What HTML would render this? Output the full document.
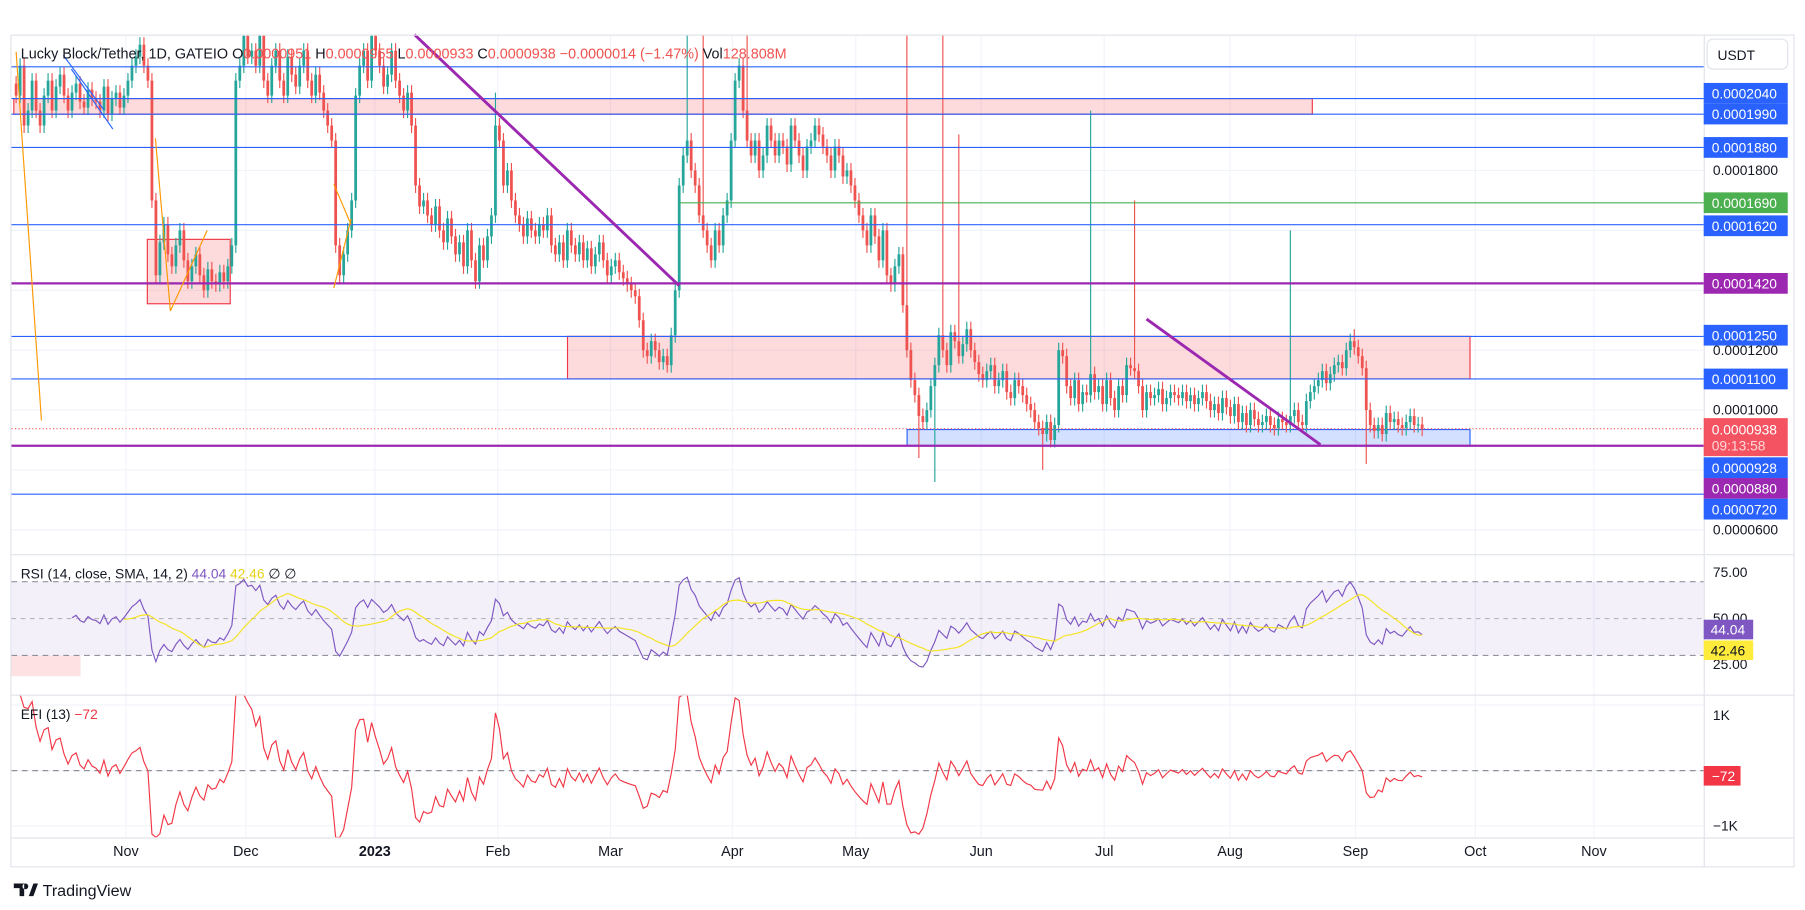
<!DOCTYPE html>
<html><head><meta charset="utf-8"><style>
html,body{margin:0;padding:0;background:#fff;overflow:hidden}
svg{display:block;font-family:"Liberation Sans",sans-serif}
</style></head><body>
<svg id="chart" width="1805" height="910" viewBox="0 0 1568 790" preserveAspectRatio="none" xmlns="http://www.w3.org/2000/svg">
<rect x="0" y="0" width="1568" height="790" fill="#fff"/>
<text x="12" y="20" font-size="13" fill="#131722">michaelfaniyi42 published on TradingView.com, Sep 19, 2023 09:46 UTC-5</text>
<g id="grid"></g>
<g id="boxes"></g>
<g id="candles"></g>
<g id="levels"></g>
<g id="drawings"></g>
<g id="rsi"></g>
<g id="efi"></g>
<g id="frame"></g>
<g id="labels"></g>
</svg>
<script>
// ---- data (price in 1e-7 USDT units) ----
const closes = [
2050,2150,1950,2000,2100,2000,1950,2050,2100,2000,
2080,2120,2050,2000,2060,2090,2030,2010,2070,2040,
2030,2000,2080,1990,2040,2060,2010,2050,2100,2150,
2180,2220,2150,2100,1700,1450,1560,1620,1520,1480,
1550,1600,1500,1430,1480,1520,1450,1400,1470,1430,
1420,1460,1430,1480,1550,2100,2150,2250,2180,2200,
2150,2250,2100,2050,2150,2200,2100,2050,2180,2120,
2080,2150,2200,2100,2050,2120,2060,2000,1950,1900,
1550,1450,1520,1600,1700,2050,2150,2200,2100,2250,
2200,2150,2080,2120,2200,2100,2050,2000,2060,1950,
1750,1680,1700,1650,1620,1680,1600,1560,1640,1580,
1520,1560,1480,1600,1500,1430,1550,1500,1580,1650,
1950,1900,1750,1800,1700,1650,1620,1580,1640,1600,
1580,1620,1600,1650,1550,1520,1560,1500,1600,1550,
1520,1560,1500,1540,1480,1520,1560,1500,1450,1480,
1500,1460,1440,1420,1400,1380,1300,1200,1180,1230,
1200,1160,1180,1150,1250,1400,1750,1850,1900,1800,
1750,1650,1600,1550,1500,1600,1550,1650,1700,1900,
2100,2150,2000,1900,1850,1900,1800,1850,1950,1900,
1850,1900,1880,1820,1950,1900,1850,1800,1880,1900,
1950,1920,1880,1850,1800,1880,1850,1780,1800,1750,
1700,1650,1600,1550,1650,1580,1500,1600,1450,1420,
1480,1520,1350,1200,1100,1050,980,960,1000,1080,
1150,1250,1200,1150,1260,1230,1180,1220,1270,1200,
1160,1120,1100,1130,1150,1080,1100,1130,1060,1040,
1100,1080,1050,1020,1000,960,940,920,960,900,
950,1200,1180,1080,1040,1100,1020,1060,1050,1120,
1060,1080,1020,1100,1040,1000,1080,1050,1150,1140,
1130,1080,1000,1060,1040,1050,1070,1020,1040,1060,
1050,1040,1060,1030,1050,1020,1040,1060,1030,1000,
1020,990,1040,1010,980,1020,960,990,950,1000,
970,950,960,980,950,940,970,960,950,980,
1000,960,950,1030,1060,1080,1100,1130,1090,1120,
1150,1160,1140,1200,1230,1210,1180,1140,1000,950,
930,950,920,990,960,970,950,940,960,980,
950,952,938];
const spikeIdx  = [168,172,223,232,236,269,280,319,335,183,120];
const spikeHigh = [2300,2300,2300,2300,1920,2000,1700,1600,1270,2300,2060];
const dipIdx = [230,338,257,226];
const dipLow = [760,820,800,840];
const levelPrices = [2146,2040,1988,1877,1619,1423,1246,1104,881,719];
const levelColors = ['#2962ff','#2962ff','#2962ff','#2962ff','#2962ff','#9c27b0','#2962ff','#2962ff','#9c27b0','#2962ff'];
const priceTicks = [1800,1600,1400,1200,1000,800,600];
const monthLabels = ['Nov','Dec','2023','Feb','Mar','Apr','May','Jun','Jul','Aug','Sep','Oct','Nov'];
const monthIdx = [27.5,57.5,89.8,120.6,148.8,179.3,210.2,241.6,272.4,303.9,335.3,365.3,395];
const rsiTicks = [75,50,25];

// ---- scales ----
const X0=14, DX=3.47;
const xs = i => X0 + i*DX;
const ys = p => 148 + (1800-p)*0.26;
const yr = v => 537 - (v-50)*1.6;
const ye = v => 669 - v*0.048;
const NS='http://www.w3.org/2000/svg';
function mk(tag, attrs, parent){const e=document.createElementNS(NS,tag);for(const k in attrs)e.setAttribute(k,attrs[k]);if(parent)parent.appendChild(e);return e;}
const G=id=>document.getElementById(id);

// grid
const grid=G('grid');
priceTicks.forEach(p=>{const l=mk('line',{x1:10,x2:1480,y1:ys(p),y2:ys(p),stroke:'#f0f3fa','stroke-width':1},grid);

});
monthIdx.forEach(m=>{const l=mk('line',{x1:xs(m),x2:xs(m),y1:30,y2:727,stroke:'#f0f3fa','stroke-width':1},grid);

});
[612,669,717].forEach(y=>{const l=mk('line',{x1:10,x2:1480,y1:y,y2:y,stroke:'#f0f3fa'},grid);

});

// boxes (zones)
const boxes=G('boxes');
function box(x1,x2,p1,p2,fill,stroke,name){const r=mk('rect',{x:x1,y:ys(p1),width:x2-x1,height:ys(p2)-ys(p1),fill:fill,stroke:stroke,'stroke-width':1},boxes);

}
box(12,1140,2040,1988,'rgba(242,54,69,0.18)','#f23645','supply-zone-top');
box(493,1277,1246,1104,'rgba(242,54,69,0.18)','#f23645','supply-zone-mid');
box(128,200,1570,1355,'rgba(242,54,69,0.18)','#f23645','zone-left');
box(788,1277,935,881,'rgba(41,98,255,0.2)','#2962ff','demand-zone');
mk('polygon',{points:'55,48 90,95 100,112 65,64',fill:'rgba(0,188,212,0.08)'},boxes);

// candles
const cg=G('candles');
for(let i=0;i<closes.length;i++){
  const c=closes[i], o=i>0?closes[i-1]:closes[0]+40;
  const up=c>=o, col=up?'#26a69a':'#ef5350';
  let hi=Math.max(o,c)+25, lo=Math.min(o,c)-25;
  const si=spikeIdx.indexOf(i); if(si>=0) hi=spikeHigh[si];
  const di=dipIdx.indexOf(i); if(di>=0) lo=dipLow[di];
  const x=xs(i);
  const w=mk('line',{x1:x,x2:x,y1:ys(hi),y2:ys(lo),stroke:col,'stroke-width':1},cg);
  
  
  const b=mk('rect',{x:x-1.2,y:ys(Math.max(o,c)),width:2.4,height:Math.max(1,Math.abs(ys(o)-ys(c))),fill:col},cg);
  
  
}
mk('rect',{x:0,y:0,width:1568,height:30,fill:'#fff'},cg);

// levels
const lv=G('levels');
levelPrices.forEach((p,k)=>{const l=mk('line',{x1:10,x2:1480,y1:ys(p),y2:ys(p),stroke:levelColors[k],'stroke-width':levelColors[k]=='#9c27b0'?2:1},lv);

});
const gl=mk('line',{x1:590,x2:1480,y1:ys(1692),y2:ys(1692),stroke:'#4caf50','stroke-width':1},lv);


const cl=mk('line',{x1:10,x2:1480,y1:ys(938),y2:ys(938),stroke:'#ef5350','stroke-width':1,'stroke-dasharray':'1,2'},lv);



// drawings
const dr=G('drawings');
[[360,30,590,248,'#9c27b0',2.5],[996,277,1147,386,'#9c27b0',2.5],[55,48,90,95,'#2962ff',1],[62,60,98,112,'#2962ff',1],
 [14,45,36,365,'#ff9800',1],[135,120,148,270,'#ff9800',1],[148,270,180,200,'#ff9800',1],[290,250,305,190,'#ff9800',1],[290,160,305,195,'#ff9800',1]]
.forEach(d=>{const l=mk('line',{x1:d[0],y1:d[1],x2:d[2],y2:d[3],stroke:d[4],'stroke-width':d[5]},dr);

});

// RSI
const rg=G('rsi');
mk('rect',{x:10,y:yr(70),width:1470,height:yr(30)-yr(70),fill:'rgba(126,87,194,0.09)'},rg);
mk('rect',{x:10,y:yr(30),width:60,height:18,fill:'rgba(242,54,69,0.15)'},rg);
[70,50,30].forEach(v=>{const l=mk('line',{x1:10,x2:1480,y1:yr(v),y2:yr(v),stroke:'#787b86','stroke-width':1,'stroke-dasharray':v==50?'4,4':'5,4',opacity:v==50?0.5:0.8},rg);

});
const rsi=[];let ag=0,al=0;
for(let i=1;i<closes.length;i++){const d=closes[i]-closes[i-1];const g=Math.max(d,0),l=Math.max(-d,0);
  if(i<=14){ag+=g/14;al+=l/14;}else{ag=(ag*13+g)/14;al=(al*13+l)/14;}
  if(i>=14) rsi[i]=al==0?100:100-100/(1+ag/al);}
const sma=[];for(let i=27;i<closes.length;i++){let s=0;for(let k=0;k<14;k++)s+=rsi[i-k];sma[i]=s/14;}
let pr='',ps='';for(let i=14;i<closes.length;i++){pr+=(pr?'L':'M')+xs(i).toFixed(1)+','+yr(rsi[i]).toFixed(1);if(sma[i]!==undefined)ps+=(ps?'L':'M')+xs(i).toFixed(1)+','+yr(sma[i]).toFixed(1);}
const rl=mk('path',{d:pr,fill:'none',stroke:'#7e57c2','stroke-width':1},rg);


const sl=mk('path',{d:ps,fill:'none',stroke:'#f5e31e','stroke-width':1},rg);



// EFI
const eg=G('efi');
const zl=mk('line',{x1:10,x2:1480,y1:ye(0),y2:ye(0),stroke:'#787b86','stroke-dasharray':'5,4',opacity:0.8},eg);


const efiVol=20;let ema=0,pe='';const a=2/14;
for(let i=1;i<closes.length;i++){const raw=(closes[i]-closes[i-1])*efiVol;ema=i==1?raw:ema+(raw-ema)*a;
  let y=Math.max(603,Math.min(727,ye(ema)));pe+=(pe?'L':'M')+xs(i).toFixed(1)+','+y.toFixed(1);}
mk('clipPath',{id:'ec'},eg).appendChild(mk('rect',{x:10,y:603,width:1470,height:124}));
const el=mk('path',{d:pe,fill:'none',stroke:'#f23645','stroke-width':1,'clip-path':'url(#ec)'},eg);



// frame
const fr=G('frame');
mk('rect',{x:1481,y:30,width:77,height:722,fill:'#fff'},fr);
mk('rect',{x:10,y:728,width:1471,height:24,fill:'#fff'},fr);
mk('rect',{x:9.5,y:30.5,width:1549,height:722,fill:'none',stroke:'#e0e3eb'},fr);
[[1480.5,30,1480.5,752],[10,481.5,1558,481.5],[10,603.5,1558,603.5],[10,727.5,1558,727.5]].forEach(s=>mk('line',{x1:s[0],y1:s[1],x2:s[2],y2:s[3],stroke:'#e0e3eb'},fr));

// labels
const lb=G('labels');
function txt(x,y,s,col,size,name,anchor,weight){const t=mk('text',{x:x,y:y,'font-size':size,fill:col,'text-anchor':anchor||'start','font-weight':weight||'normal'},lb);t.textContent=s;

return t;}
// header
const hdr=[['Lucky Block/Tether, 1D, GATEIO','#131722'],['  O','#131722'],['0.0000951','#ef5350'],['  H','#131722'],['0.0000955','#ef5350'],['  L','#131722'],['0.0000933','#ef5350'],['  C','#131722'],['0.0000938  −0.0000014 (−1.47%)','#ef5350'],['  Vol','#131722'],['128.808M','#ef5350']];
const ht=mk('text',{x:18,y:51,'font-size':12.5,'xml:space':'preserve'},lb);


hdr.forEach(h=>{const s=mk('tspan',{fill:h[1]},ht);s.textContent=h[0];});
// price ticks
[[1800,'0.0001800'],[1200,'0.0001200'],[1000,'0.0001000'],[600,'0.0000600']].forEach(t=>txt(1488,ys(t[0])+4,t[1],'#131722',12,'price-tick'));
txt(1488,ys(1600)+4,'0.0001600','#131722',12,'price-tick');
// USDT
const ub=mk('rect',{x:1483,y:34,width:70,height:26,rx:5,fill:'#fff',stroke:'#e0e3eb'},lb);


txt(1492,52,'USDT','#131722',12,'currency-label');
const tags=[['0.0002040',81,'#2962ff'],['0.0001990',99,'#2962ff'],['0.0001880',128,'#2962ff'],['0.0001690',176,'#4caf50'],['0.0001620',196,'#2962ff'],['0.0001420',246,'#9c27b0'],['0.0001250',291,'#2962ff'],['0.0001100',329,'#2962ff'],['0.0000928',406,'#2962ff'],['0.0000880',424,'#9c27b0'],['0.0000720',442,'#2962ff']];
tags.forEach(t=>{const r=mk('rect',{x:1480,y:t[1]-9,width:73,height:18,fill:t[2]},lb);


txt(1487,t[1]+4.5,t[0],'#fff',12,'price-level-text');});
const cr=mk('rect',{x:1480,y:363,width:73,height:33,fill:'#f23645',opacity:0.85},lb);


txt(1487,377,'0.0000938','#fff',12,'last-price-text');
txt(1487,391,'09:13:58','#ffd6d9',12,'countdown-text');
// RSI axis
rsiTicks.forEach(v=>txt(1488,yr(v)+4,v.toFixed(2),'#131722',12,'rsi-tick'));
let r1=mk('rect',{x:1480,y:538,width:43,height:17,fill:'#7e57c2'},lb);
txt(1486,551,'44.04','#fff',12,'rsi-value-text');
let r2=mk('rect',{x:1480,y:556,width:43,height:17,fill:'#ffeb3b'},lb);
txt(1486,569,'42.46','#131722',12,'rsi-sma-text');
const rh=mk('text',{x:18,y:502,'font-size':12,'xml:space':'preserve'},lb);


[['RSI (14, close, SMA, 14, 2)  ','#131722'],['44.04  ','#7e57c2'],['42.46  ','#e8d21a'],['∅  ∅','#131722']].forEach(h=>{const s=mk('tspan',{fill:h[1]},rh);s.textContent=h[0];});
// EFI axis
txt(1488,ye(1000)+4,'1K','#131722',12,'efi-tick');
txt(1488,ye(-1000)+4,'−1K','#131722',12,'efi-tick');
let r3=mk('rect',{x:1480,y:665,width:32,height:17,fill:'#f23645'},lb);
txt(1487,678,'−72','#fff',12,'efi-value-text');
const eh=mk('text',{x:18,y:624,'font-size':12,'xml:space':'preserve'},lb);


[['EFI (13)  ','#131722'],['−72','#f23645']].forEach(h=>{const s=mk('tspan',{fill:h[1]},eh);s.textContent=h[0];});
// time axis
monthLabels.forEach((m,k)=>txt(xs(monthIdx[k]),743,m,'#131722',12.5,'time-tick','middle',m=='2023'?'bold':'normal'));
// logo
const lg=mk('path',{d:'M12,767 h9 v11 h-4 v-7 h-5z M22,767 a2.5,2.5 0 1 0 0.1,0 M25,778 l4,-11 h4 l-4,11z',fill:'#131722'},lb);


txt(37,778,'TradingView','#131722',14,'tradingview-wordmark');
</script>
</body></html>
